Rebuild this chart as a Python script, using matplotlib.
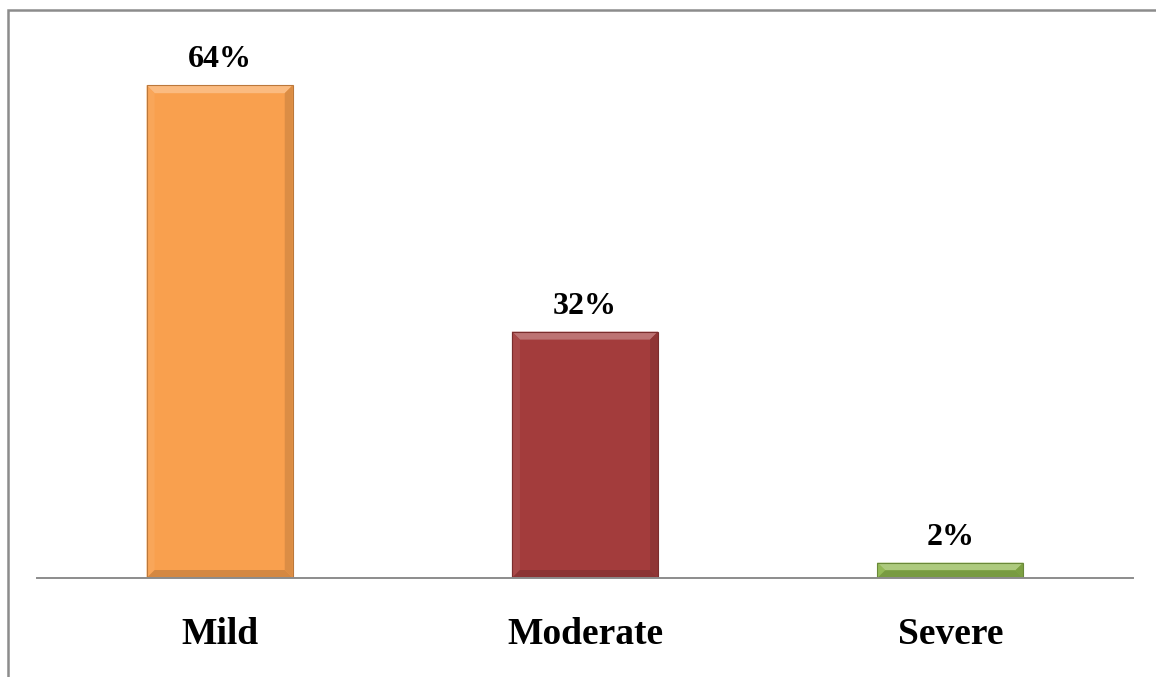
import matplotlib.pyplot as plt
from matplotlib.patches import Polygon, Rectangle
from matplotlib.colors import to_rgb

categories = ["Mild", "Moderate", "Severe"]
values = [64, 32, 2]
labels = ["64%", "32%", "2%"]

C_FACE = ["#F9A04E", "#A33C3C", "#8DB64C"]
C_LINE = "#8C8C8C"
FONT = ["Liberation Serif", "DejaVu Serif"]


def shade(c, f):
    r, g, b = to_rgb(c)
    if f >= 0:
        return (r + (1 - r) * f, g + (1 - g) * f, b + (1 - b) * f)
    return (r * (1 + f), g * (1 + f), b * (1 + f))


fig = plt.figure(figsize=(11.56, 6.77), dpi=100)
ax = fig.add_axes([37 / 1156, 99 / 677, 1096 / 1156, 539 / 677])
ax.set_xlim(-0.5, 2.5)
ax.set_ylim(0, 70)

xs = list(range(len(categories)))
bars = ax.bar(xs, values, width=0.4, color=C_FACE, edgecolor="none", zorder=2)

# bevel edges, sized in pixels
px_x = 1096 / 3.0
px_y = 539 / 70.0
bev = 8
for bar, col in zip(bars, C_FACE):
    x0, y0 = bar.get_x(), bar.get_y()
    w, h = bar.get_width(), bar.get_height()
    x1, y1 = x0 + w, y0 + h
    dx = bev / px_x
    dy = min(bev / px_y, h / 2.0)
    parts = [
        ([(x0, y1), (x1, y1), (x1 - dx, y1 - dy), (x0 + dx, y1 - dy)], 0.28),
        ([(x0, y0), (x0, y1), (x0 + dx, y1 - dy), (x0 + dx, y0 + dy)], 0.06),
        ([(x1, y0), (x1, y1), (x1 - dx, y1 - dy), (x1 - dx, y0 + dy)], -0.12),
        ([(x0, y0), (x1, y0), (x1 - dx, y0 + dy), (x0 + dx, y0 + dy)], -0.15),
    ]
    for pts, f in parts:
        ax.add_patch(Polygon(pts, closed=True, facecolor=shade(col, f),
                             edgecolor="none", zorder=3))
    ax.add_patch(Rectangle((x0, y0), w, h, facecolor="none",
                           edgecolor=shade(col, -0.25), lw=0.8, zorder=4))

for bar, lab in zip(bars, labels):
    ax.annotate(lab, (bar.get_x() + bar.get_width() / 2, bar.get_height()),
                xytext=(0, 13), textcoords="offset points",
                ha="center", va="baseline", fontsize=23,
                fontweight="bold", family=FONT, color="black")

ax.set_xticks(xs)
ax.set_xticklabels(categories, fontsize=27, fontweight="bold", family=FONT)
ax.tick_params(axis="x", length=0, pad=28)
ax.set_yticks([])
for s in ["left", "right", "top"]:
    ax.spines[s].set_visible(False)
ax.spines["bottom"].set_color(C_LINE)
ax.spines["bottom"].set_linewidth(1.4)
ax.spines["bottom"].set_zorder(5)

# outer frame of the chart area
fig.add_artist(Rectangle((8 / 1156, -0.1), 1.2, 0.1 + (677 - 10) / 677,
                         transform=fig.transFigure, facecolor="none",
                         edgecolor=C_LINE, lw=1.8, clip_on=False))

fig.savefig("out.png", dpi=100, facecolor="white")
